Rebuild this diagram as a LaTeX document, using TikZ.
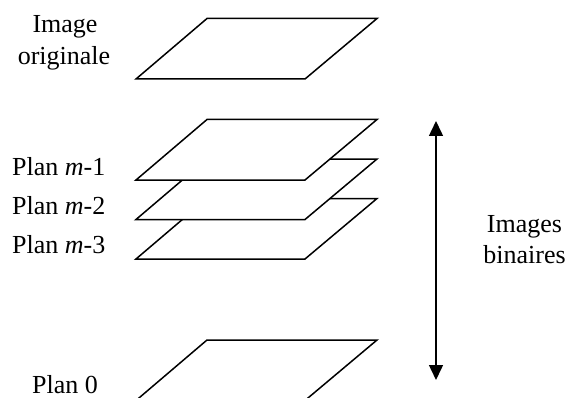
\documentclass[tikz,border=0pt]{standalone}
\usepackage{fontspec}
\setmainfont{Liberation Serif}
\usetikzlibrary{arrows.meta}
\begin{document}
\begin{tikzpicture}[x=1pt,y=-1pt,
  plane/.style={draw=black,fill=white,line width=1.5pt,line join=miter},
  lbl/.style={font=\fontsize{26}{31}\selectfont,inner sep=0pt},
  dbl/.style={line width=1.5pt,{Triangle[width=14pt,length=15pt]}-{Triangle[width=14pt,length=15pt]}}]
\useasboundingbox (0,0) rectangle (569,398);
% planes: bottom y b, top y b-60.5
\foreach \nm/\b in {orig/79, p0/400.5, m3/259, m2/219.5, m1/180}{
  \draw[plane] (136,\b) coordinate (\nm-bl) -- (305,\b) coordinate (\nm-br)
     -- (377,\b-60.5) coordinate (\nm-tr) -- (207,\b-60.5) coordinate (\nm-tl) -- cycle;
}
\node[lbl,anchor=base] (t1) at (65,33) {Image};
\node[lbl,anchor=base] (t2) at (64,65) {originale};
\node[lbl,anchor=base west] (l1) at (12,175) {Plan \textit{m}-1};
\node[lbl,anchor=base west] (l2) at (12,214) {Plan \textit{m}-2};
\node[lbl,anchor=base west] (l3) at (12,253) {Plan \textit{m}-3};
\node[lbl,anchor=base west] (l0) at (32,393) {Plan 0};
\node[lbl,anchor=base] (b1) at (524.5,232) {Images};
\node[lbl,anchor=base] (b2) at (524.5,263) {binaires};
\coordinate (atop) at (436,121);
\coordinate (abot) at (436,380);
\draw[dbl] (atop) -- (abot);
\end{tikzpicture}
\end{document}
